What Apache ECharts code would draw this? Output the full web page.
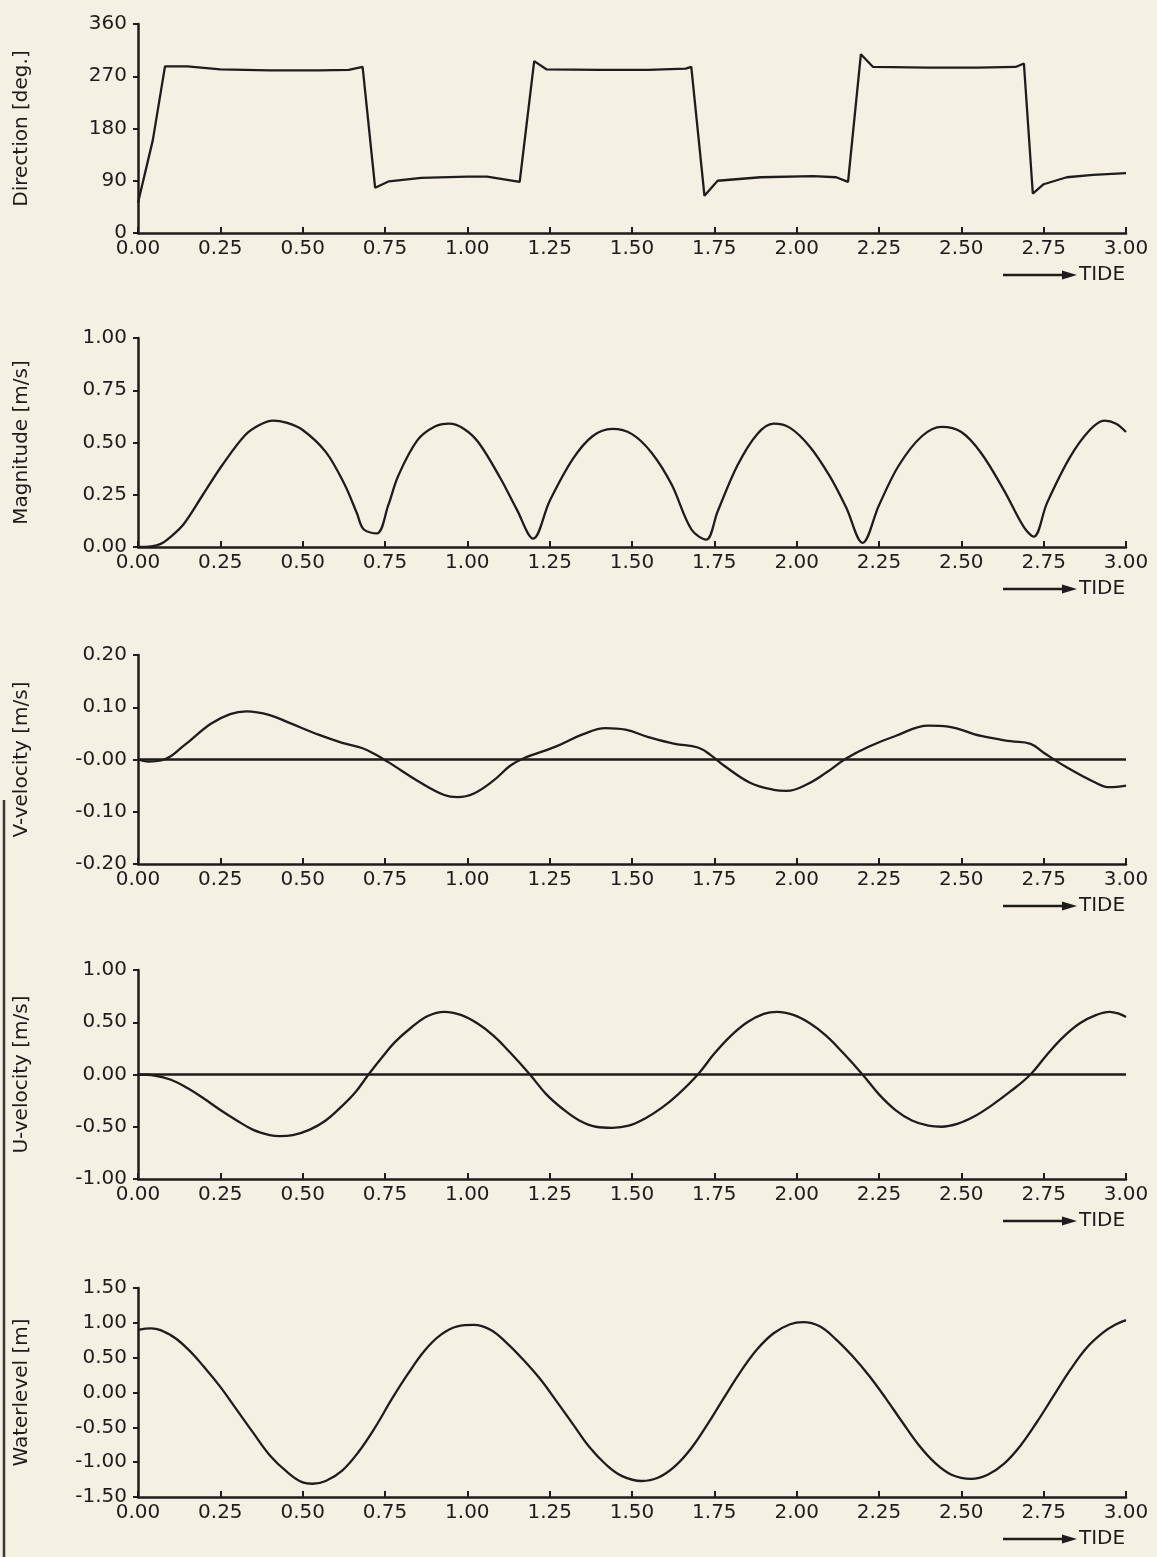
<!DOCTYPE html>
<html>
<head>
<meta charset="utf-8">
<script src="https://cdn.jsdelivr.net/npm/echarts@6/dist/echarts.min.js"></script>
<style>
html,body{margin:0;padding:0;background:#f4f0e4;}
#c{width:1157px;height:1557px;}
</style>
</head>
<body>
<div id="c"></div>
<script>
// ---- data (tide cycles vs. value) ----
const xTickLabels = ['0.00','0.25','0.50','0.75','1.00','1.25','1.50','1.75','2.00','2.25','2.50','2.75','3.00'];

const dirT   = [0, 0.045, 0.082, 0.15, 0.25, 0.40, 0.55, 0.64, 0.682, 0.72, 0.762, 0.86, 1.00, 1.06, 1.159, 1.203, 1.24, 1.40, 1.55, 1.663, 1.68, 1.72, 1.76, 1.89, 2.05, 2.12, 2.156, 2.195, 2.232, 2.40, 2.55, 2.665, 2.69, 2.717, 2.75, 2.82, 2.90, 3.00];
const dirDeg = [52, 160, 287, 287, 282, 280, 280, 281, 286, 78, 89, 95, 97, 97, 88, 296, 282, 281, 281, 283, 286, 64, 90, 96, 98, 96, 88, 308, 286, 285, 285, 286, 292, 68, 84, 96, 100, 103];

const magT   = [0, 0.04, 0.069, 0.10, 0.139, 0.197, 0.255, 0.325, 0.37, 0.41, 0.45, 0.50, 0.57, 0.627, 0.665, 0.685, 0.725, 0.76, 0.79, 0.848, 0.90, 0.945, 0.99, 1.034, 1.10, 1.15, 1.20, 1.25, 1.32, 1.38, 1.44, 1.50, 1.56, 1.62, 1.68, 1.725, 1.76, 1.82, 1.88, 1.93, 1.98, 2.04, 2.10, 2.15, 2.20, 2.25, 2.31, 2.38, 2.44, 2.50, 2.56, 2.63, 2.69, 2.72, 2.76, 2.83, 2.89, 2.935, 2.97, 3.00];
const magVal = [0, 0.003, 0.015, 0.05, 0.11, 0.25, 0.39, 0.535, 0.585, 0.605, 0.595, 0.56, 0.455, 0.30, 0.16, 0.085, 0.065, 0.20, 0.34, 0.51, 0.575, 0.59, 0.565, 0.50, 0.33, 0.18, 0.04, 0.22, 0.42, 0.53, 0.565, 0.54, 0.45, 0.30, 0.085, 0.035, 0.17, 0.39, 0.54, 0.59, 0.57, 0.48, 0.34, 0.19, 0.02, 0.20, 0.39, 0.53, 0.575, 0.55, 0.45, 0.27, 0.095, 0.05, 0.21, 0.43, 0.56, 0.605, 0.59, 0.55];

const vT   = [0, 0.03, 0.08, 0.14, 0.22, 0.28, 0.33, 0.40, 0.46, 0.55, 0.62, 0.68, 0.72, 0.76, 0.86, 0.93, 0.97, 1.02, 1.08, 1.13, 1.17, 1.27, 1.35, 1.42, 1.48, 1.55, 1.63, 1.70, 1.74, 1.78, 1.86, 1.93, 1.97, 2.03, 2.09, 2.15, 2.22, 2.30, 2.40, 2.46, 2.56, 2.65, 2.71, 2.75, 2.82, 2.90, 2.95, 3.00];
const vVal = [0, -0.004, 0, 0.027, 0.068, 0.087, 0.092, 0.085, 0.07, 0.047, 0.032, 0.022, 0.01, -0.005, -0.045, -0.068, -0.072, -0.065, -0.04, -0.012, 0.002, 0.025, 0.048, 0.06, 0.057, 0.043, 0.03, 0.023, 0.008, -0.012, -0.045, -0.058, -0.06, -0.048, -0.025, 0.002, 0.025, 0.045, 0.065, 0.063, 0.045, 0.035, 0.03, 0.013, -0.015, -0.042, -0.053, -0.05];

const uT   = [0, 0.05, 0.10, 0.15, 0.20, 0.25, 0.30, 0.35, 0.40, 0.43, 0.47, 0.52, 0.57, 0.62, 0.66, 0.70, 0.74, 0.78, 0.83, 0.88, 0.93, 0.98, 1.03, 1.08, 1.13, 1.19, 1.24, 1.29, 1.34, 1.39, 1.44, 1.49, 1.54, 1.59, 1.64, 1.70, 1.75, 1.80, 1.85, 1.90, 1.94, 1.99, 2.04, 2.09, 2.14, 2.20, 2.25, 2.30, 2.35, 2.40, 2.44, 2.49, 2.54, 2.59, 2.65, 2.71, 2.76, 2.81, 2.86, 2.91, 2.95, 2.98, 3.00];
const uVal = [0, -0.01, -0.05, -0.13, -0.23, -0.34, -0.44, -0.53, -0.58, -0.59, -0.58, -0.53, -0.44, -0.30, -0.17, 0, 0.16, 0.31, 0.45, 0.56, 0.60, 0.57, 0.49, 0.37, 0.21, 0, -0.19, -0.33, -0.44, -0.50, -0.51, -0.49, -0.42, -0.32, -0.19, 0, 0.20, 0.37, 0.50, 0.58, 0.60, 0.57, 0.49, 0.37, 0.21, 0, -0.19, -0.34, -0.44, -0.49, -0.50, -0.47, -0.40, -0.30, -0.16, 0, 0.19, 0.36, 0.49, 0.57, 0.60, 0.58, 0.55];

const wlT   = [0, 0.04, 0.10, 0.15, 0.20, 0.25, 0.30, 0.35, 0.40, 0.45, 0.50, 0.53, 0.57, 0.62, 0.67, 0.72, 0.77, 0.82, 0.87, 0.92, 0.97, 1.02, 1.07, 1.12, 1.17, 1.22, 1.27, 1.32, 1.37, 1.42, 1.47, 1.53, 1.58, 1.63, 1.68, 1.73, 1.78, 1.83, 1.88, 1.93, 1.98, 2.02, 2.07, 2.12, 2.17, 2.22, 2.27, 2.32, 2.37, 2.42, 2.47, 2.53, 2.58, 2.63, 2.68, 2.73, 2.78, 2.83, 2.88, 2.93, 2.97, 3.00];
const wlVal = [0.90, 0.92, 0.82, 0.63, 0.37, 0.08, -0.25, -0.58, -0.90, -1.13, -1.29, -1.31, -1.27, -1.12, -0.85, -0.50, -0.10, 0.27, 0.60, 0.83, 0.95, 0.97, 0.90, 0.71, 0.47, 0.20, -0.12, -0.45, -0.78, -1.03, -1.20, -1.27, -1.22, -1.06, -0.80, -0.45, -0.07, 0.30, 0.62, 0.85, 0.98, 1.01, 0.95, 0.76, 0.52, 0.24, -0.08, -0.42, -0.75, -1.01, -1.18, -1.24, -1.18, -1.02, -0.76, -0.42, -0.05, 0.32, 0.64, 0.86, 0.98, 1.04];

// ---- panels ----
const panels = [
  {name: 'Direction [deg.]',  t: dirT, v: dirDeg, min: 0,    max: 360, interval: 90,   dec: 0, smooth: false, zero: false},
  {name: 'Magnitude [m/s]',   t: magT, v: magVal, min: 0,    max: 1,   interval: 0.25, dec: 2, smooth: 0.35,  zero: false},
  {name: 'V-velocity [m/s]',  t: vT,   v: vVal,   min: -0.2, max: 0.2, interval: 0.1,  dec: 2, smooth: 0.4,   zero: true, negZero: true},
  {name: 'U-velocity [m/s]',  t: uT,   v: uVal,   min: -1,   max: 1,   interval: 0.5,  dec: 2, smooth: 0.4,   zero: true},
  {name: 'Waterlevel [m]',    t: wlT,  v: wlVal,  min: -1.5, max: 1.5, interval: 0.5,  dec: 2, smooth: 0.4,   zero: false}
];

const INK = '#1f1d1b';
const FONT = 'DejaVu Sans';
const LEFT = 138, RIGHT = 31, H = 209;
const tops = [24, 338, 655, 970, 1288];

const grid = [], xAxis = [], yAxis = [], series = [], graphic = [];

panels.forEach((p, i) => {
  grid.push({left: LEFT, right: RIGHT, top: tops[i], height: H});
  xAxis.push({
    type: 'value', gridIndex: i, min: 0, max: 3, interval: 0.25,
    axisLine: {show: true, onZero: false, lineStyle: {color: INK, width: 2.5}},
    axisTick: {show: true, inside: true, length: 6, lineStyle: {color: INK, width: 2}},
    splitLine: {show: false},
    axisLabel: {
      color: INK, fontFamily: FONT, fontSize: 20, margin: 6,
      formatter: v => xTickLabels[Math.round(v / 0.25)]
    }
  });
  yAxis.push({
    type: 'value', gridIndex: i, min: p.min, max: p.max, interval: p.interval,
    name: p.name, nameLocation: 'middle', nameRotate: 90, nameGap: 106,
    nameTextStyle: {color: INK, fontFamily: FONT, fontSize: 20},
    axisLine: {show: true, lineStyle: {color: INK, width: 2.5}},
    axisTick: {show: true, inside: false, length: 5, lineStyle: {color: INK, width: 2}},
    splitLine: {show: false},
    axisLabel: {
      color: INK, fontFamily: FONT, fontSize: 20, margin: 11,
      formatter: v => {
        if (p.negZero && Math.abs(v) < 1e-9) return '-0.00';
        return (Math.abs(v) < 1e-9 ? 0 : v).toFixed(p.dec);
      }
    }
  });
  const s = {
    type: 'line', xAxisIndex: i, yAxisIndex: i,
    data: p.t.map((t, k) => [t, p.v[k]]),
    showSymbol: false, smooth: p.smooth,
    lineStyle: {color: INK, width: 2.3},
    animation: false, silent: true
  };
  if (p.zero) {
    s.markLine = {
      silent: true, symbol: 'none', label: {show: false},
      lineStyle: {color: INK, width: 2.5, type: 'solid'},
      data: [{yAxis: 0}]
    };
  }
  series.push(s);

  // "——► TIDE" annotation under each panel
  const ay = tops[i] + H + 42;
  graphic.push({
    type: 'group', silent: true,
    children: [
      {type: 'line', shape: {x1: 1003, y1: ay, x2: 1064, y2: ay}, style: {stroke: INK, lineWidth: 2.3}},
      {type: 'polygon', shape: {points: [[1062, ay - 4.5], [1077, ay], [1062, ay + 4.5]]}, style: {fill: INK}},
      {type: 'text', x: 1079, y: ay, style: {text: 'TIDE', fill: INK, font: '20px "DejaVu Sans"', textVerticalAlign: 'middle'}}
    ]
  });
});

// scan edge on the left of the lower half
graphic.push({type: 'line', silent: true, shape: {x1: 4, y1: 800, x2: 4, y2: 1557}, style: {stroke: '#3a3631', lineWidth: 2.5}});

const chart = echarts.init(document.getElementById('c'), null, {renderer: 'canvas'});
chart.setOption({
  backgroundColor: '#f4f0e4',
  animation: false,
  grid, xAxis, yAxis, series, graphic
});
</script>
</body>
</html>
